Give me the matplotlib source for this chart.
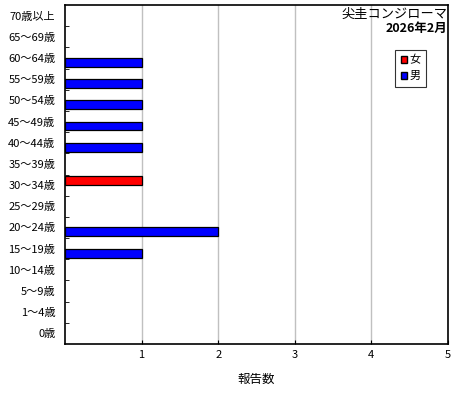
import matplotlib
matplotlib.use("Agg")
import matplotlib.pyplot as plt
import numpy as np
from matplotlib.patches import Patch

plt.rcParams['font.family'] = ['Noto Sans CJK JP', 'DejaVu Sans']

categories = ["0歳", "1～4歳", "5～9歳", "10～14歳", "15～19歳", "20～24歳", "25～29歳",
              "30～34歳", "35～39歳", "40～44歳", "45～49歳", "50～54歳", "55～59歳",
              "60～64歳", "65～69歳", "70歳以上"]
female = [0, 0, 0, 0, 0, 0, 0, 1, 0, 0, 0, 0, 0, 0, 0, 0]
male = [0, 0, 0, 0, 1, 2, 0, 0, 0, 1, 1, 1, 1, 1, 0, 0]
xticks = [1, 2, 3, 4, 5]
title1 = "尖圭コンジローマ"
title2 = "2026年2月"
xlabel = "報告数"

fig = plt.figure(figsize=(4.6, 4.0), dpi=100)
ax = fig.add_axes([65/460, 1 - 344/400, 383/460, 339/400])

y = np.arange(len(categories))
h = 0.42
fv = np.array(female); mv = np.array(male)
fi = fv > 0; mi = mv > 0
ax.barh(y[fi] + h/2, fv[fi], height=h, color="#ff0000", edgecolor="black", linewidth=0.9, zorder=3)
ax.barh(y[mi] - h/2, mv[mi], height=h, color="#0000ff", edgecolor="black", linewidth=0.9, zorder=3)

ax.set_xlim(0, 5)
ax.set_ylim(-0.5, len(categories) - 0.5)
ax.set_xticks(xticks)
ax.set_xticklabels([str(t) for t in xticks], fontsize=8)
ax.set_yticks(y)
ax.set_yticklabels(categories, fontsize=8)
ax.tick_params(axis='y', length=0, pad=7)
ax.set_yticks(np.arange(len(categories) - 1) + 0.5, minor=True)
ax.tick_params(axis='y', which='minor', direction='in', length=3, color='black')
ax.tick_params(axis='x', direction='in', length=3, pad=4)
ax.grid(axis='x', color='#c0c0c0', linewidth=1, zorder=0)
for s in ax.spines.values():
    s.set_linewidth(1.2)
ax.set_xlabel(xlabel, fontsize=9, labelpad=10)

ax.text(0.999, 0.99, title1, transform=ax.transAxes, ha='right', va='top', fontsize=9.5)
ax.text(0.999, 0.95, title2, transform=ax.transAxes, ha='right', va='top', fontsize=9, fontweight='bold')

handles = [Patch(facecolor="#ff0000", edgecolor="black", label="女"),
           Patch(facecolor="#0000ff", edgecolor="black", label="男")]
leg = ax.legend(handles=handles, loc='upper right', bbox_to_anchor=(0.958, 0.885), fontsize=8,
                frameon=True, fancybox=False, edgecolor='black', handlelength=0.6, handleheight=0.6,
                handletextpad=0.2, borderpad=0.5, labelspacing=0.5)
leg.get_frame().set_linewidth(0.8)

fig.savefig("out.png", dpi=100)
